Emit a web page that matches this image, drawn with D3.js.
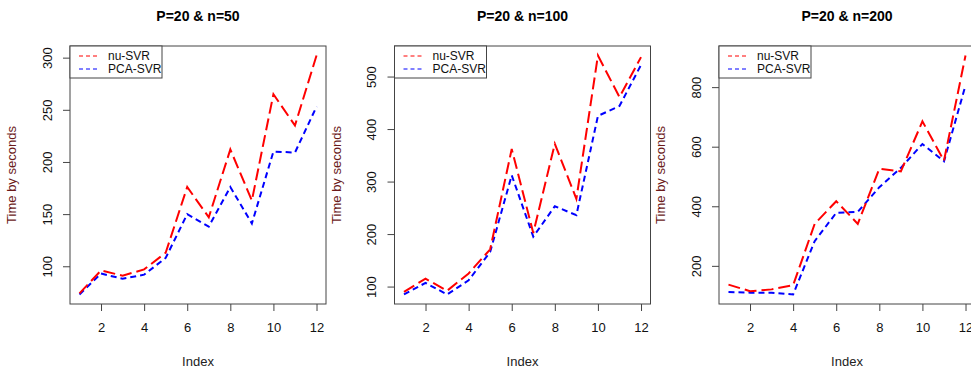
<!DOCTYPE html>
<html lang="en">
<head>
    <meta charset="UTF-8">
    <title>nu-SVR vs PCA-SVR</title>
    <script src="https://d3js.org/d3.v7.min.js"></script>
    <style>
        body { margin: 0; background: #fff; }
        text { font-family: "Liberation Sans", Arial, sans-serif; }
    </style>
</head>
<body>
<script type="text/javascript">
    var svgWidth = 971;
    var svgHeight = 371;

    // data
    var indexValues = [1, 2, 3, 4, 5, 6, 7, 8, 9, 10, 11, 12];
    var xTicks = [2, 4, 6, 8, 10, 12];
    var titles = ["P=20 & n=50", "P=20 & n=100", "P=20 & n=200"];
    var seriesNames = ["nu-SVR", "PCA-SVR"];

    var nuSvr50 = [74, 96, 91, 97, 113, 176, 147, 212, 163, 265, 235, 302];
    var pcaSvr50 = [73, 93, 88, 92, 108, 150, 138, 176, 141, 210, 209, 253];
    var nuSvr100 = [90, 115, 92, 125, 171, 362, 202, 372, 267, 540, 461, 537];
    var pcaSvr100 = [85, 107, 85, 112, 166, 312, 195, 253, 236, 425, 444, 522];
    var nuSvr200 = [137, 115, 121, 135, 341, 417, 341, 526, 517, 685, 553, 906];
    var pcaSvr200 = [112, 110, 110, 104, 283, 378, 381, 464, 529, 609, 551, 806];

    var yTicks50 = [100, 150, 200, 250, 300];
    var yTicks100 = [100, 200, 300, 400, 500];
    var yTicks200 = [200, 400, 600, 800];

    var panels = [
        {title: titles[0], red: nuSvr50, blue: pcaSvr50, ticks: yTicks50},
        {title: titles[1], red: nuSvr100, blue: pcaSvr100, ticks: yTicks100},
        {title: titles[2], red: nuSvr200, blue: pcaSvr200, ticks: yTicks200}
    ];

    var boxW = 256, boxTop = 46, boxBottom = 304;
    var panelStep = 324.5, firstLeft = 70;

    var svg = d3.select("body").append("svg")
        .attr("width", svgWidth)
        .attr("height", svgHeight);

    // R-style 4% padding on a range
    var padded = function (lo, hi) {
        var d = (hi - lo) * 0.04;
        return [lo - d, hi + d];
    };

    panels.forEach(function (p, i) {
        var left = firstLeft + i * panelStep;
        var g = svg.append("g").attr("transform", "translate(" + left + ",0)");

        var xScale = d3.scaleLinear()
            .domain(padded(1, 12))
            .range([0, boxW]);
        var all = p.red.concat(p.blue);
        var yScale = d3.scaleLinear()
            .domain(padded(d3.min(all), d3.max(all)))
            .range([boxBottom, boxTop]);

        var line = d3.line()
            .x(function (d, j) { return xScale(indexValues[j]); })
            .y(function (d) { return yScale(d); });

        g.append("path")
            .datum(p.blue)
            .attr("d", line)
            .attr("fill", "none")
            .attr("stroke", "#0000ff")
            .attr("stroke-width", 2)
            .attr("stroke-dasharray", "6,4");
        g.append("path")
            .datum(p.red)
            .attr("d", line)
            .attr("fill", "none")
            .attr("stroke", "#ff0000")
            .attr("stroke-width", 2)
            .attr("stroke-dasharray", "12,5");

        // box
        g.append("rect")
            .attr("x", 0)
            .attr("y", boxTop)
            .attr("width", boxW)
            .attr("height", boxBottom - boxTop)
            .attr("fill", "none")
            .attr("stroke", "#444")
            .attr("stroke-width", 1);

        var xAxis = d3.axisBottom(xScale)
            .tickValues(xTicks)
            .tickSize(7)
            .tickPadding(12);
        var xg = g.append("g")
            .attr("transform", "translate(0," + boxBottom + ")")
            .call(xAxis);
        xg.select(".domain").remove();
        xg.selectAll("line").attr("stroke", "#444");
        xg.selectAll("text").attr("font-size", "13px").attr("fill", "#111")
            .attr("font-family", "Liberation Sans, Arial, sans-serif");

        var yAxis = d3.axisLeft(yScale)
            .tickValues(p.ticks)
            .tickSize(7)
            .tickPadding(0);
        var yg = g.append("g").call(yAxis);
        yg.select(".domain").remove();
        yg.selectAll("line").attr("stroke", "#444");
        yg.selectAll("text")
            .attr("font-size", "13px")
            .attr("fill", "#111")
            .attr("font-family", "Liberation Sans, Arial, sans-serif")
            .attr("text-anchor", "middle")
            .attr("dy", null)
            .attr("x", null)
            .attr("transform", "translate(-23,0) rotate(-90)")
            .attr("y", 0)
            .attr("dominant-baseline", "central");

        g.append("text")
            .attr("x", boxW / 2)
            .attr("y", 21)
            .attr("text-anchor", "middle")
            .attr("font-size", "14px")
            .attr("font-weight", "bold")
            .attr("fill", "#000")
            .text(p.title);

        g.append("text")
            .attr("x", boxW / 2)
            .attr("y", 366)
            .attr("text-anchor", "middle")
            .attr("font-size", "13px")
            .attr("fill", "#222")
            .text("Index");

        g.append("text")
            .attr("transform", "translate(-54," + ((boxTop + boxBottom) / 2) + ") rotate(-90)")
            .attr("text-anchor", "middle")
            .attr("font-size", "13px")
            .attr("fill", "#6b1a1a")
            .text("Time by seconds");

        // legend
        var lg = g.append("g").attr("transform", "translate(0," + boxTop + ")");
        lg.append("rect")
            .attr("x", 0).attr("y", 0)
            .attr("width", 92).attr("height", 32)
            .attr("fill", "#fff")
            .attr("stroke", "#444");
        var legColors = ["#ff0000", "#0000ff"];
        seriesNames.forEach(function (name, k) {
            var yy = 10 + k * 13;
            lg.append("line")
                .attr("x1", 9).attr("x2", 27)
                .attr("y1", yy).attr("y2", yy)
                .attr("stroke", legColors[k])
                .attr("stroke-width", 1)
                .attr("stroke-dasharray", "4,3");
            lg.append("text")
                .attr("x", 38).attr("y", yy + 4)
                .attr("font-size", "12px")
                .attr("fill", "#111")
                .text(name);
        });
    });
</script>
</body>
</html>
